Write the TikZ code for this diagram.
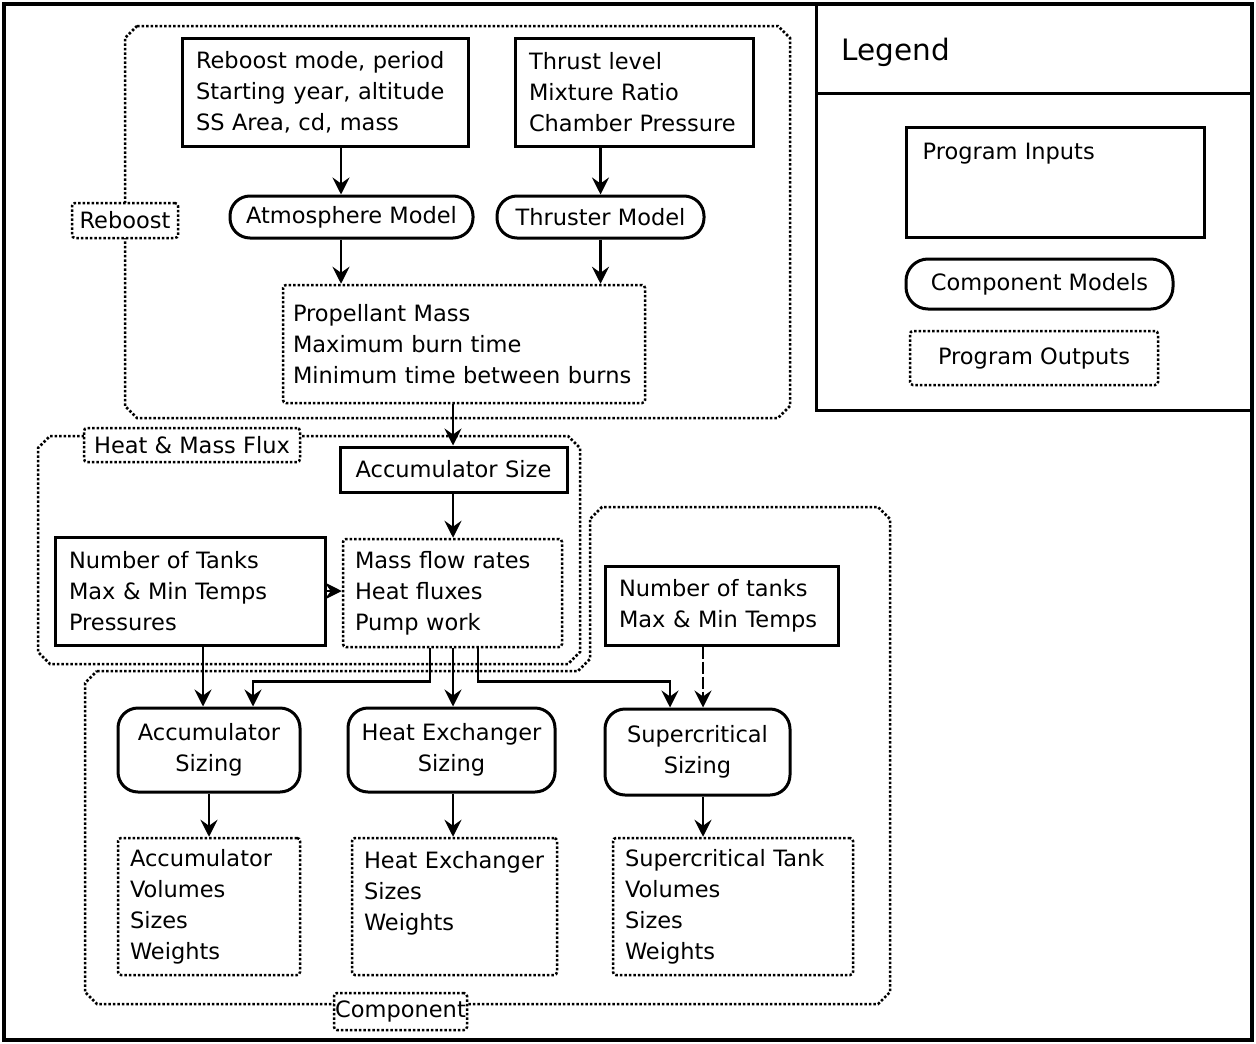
\documentclass[tikz,border=0pt]{standalone}
\usepackage{fontspec}
\setmainfont{DejaVu Sans}
\usetikzlibrary{arrows.meta,positioning}

\tikzset{
  inbox/.style={draw, line width=3pt, align=left, inner xsep=14pt, inner ysep=0pt},
  model/.style={draw, line width=3pt, align=center, rounded corners=20pt, inner sep=0pt},
  outbox/.style={draw, line width=2.5pt, dash pattern=on 2.5pt off 2pt, rounded corners=3pt,
    align=left, inner xsep=12pt, inner ysep=0pt},
  grplabel/.style={draw, fill=white, line width=2.5pt, dash pattern=on 2.5pt off 2pt,
    rounded corners=3pt, inner sep=0pt},
  grp/.style={line width=2.5pt, dash pattern=on 2.5pt off 2pt},
  flow/.style={->, line width=2.5pt},
  >={Stealth[length=17pt,width=17pt,inset=6pt]}
}

\begin{document}
\begin{tikzpicture}[x=1pt, y=-1pt, font=\fontsize{22.5}{31}\selectfont]

  \useasboundingbox (0,0) rectangle (1256,1044);

  % frame and legend
  \draw[line width=4.5pt] (4,4) rectangle (1252,1040);
  \draw[line width=3pt] (816,4) rectangle (1252,410);
  \draw[line width=3pt] (816,93) -- (1252,93);

  % group outlines
  \draw[grp] (137,26) -- (778,26) -- (790,38) -- (790,406) -- (778,418)
    -- (137,418) -- (125,406) -- (125,38) -- cycle; %% reboost
  \draw[grp] (50,436) -- (568,436) -- (580,448) -- (580,652) -- (568,664)
    -- (50,664) -- (38,652) -- (38,448) -- cycle; %% heat & mass flux
  \draw[grp] (97,671) -- (578,671) -- (590,659) -- (590,519) -- (602,507)
    -- (878,507) -- (890,519) -- (890,992) -- (878,1004) -- (97,1004)
    -- (85,992) -- (85,683) -- cycle; %% component

  \node[grplabel, minimum width=106, minimum height=35] (lreb) at (125,220.5) {Reboost};
  \node[grplabel, minimum width=216, minimum height=34] (lhmf) at (192,445) {Heat \& Mass Flux};
  \node[grplabel, minimum width=133, minimum height=37] (lcomp) at (400.5,1011.5) {Component};

  % reboost
  \node[inbox, text width=258, minimum height=108] (in1) at (325,92)
    {Reboost mode, period\\Starting year, altitude\\SS Area, cd, mass};
  \node[inbox, text width=210, minimum height=108] (in2) at (634,92)
    {Thrust level\\Mixture Ratio\\Chamber Pressure};
  \node[model, minimum width=243, minimum height=42] (atm) at (351.5,217) {Atmosphere Model};
  \node[model, minimum width=207, minimum height=42] (thr) at (600.5,217) {Thruster Model};
  \node[outbox, inner xsep=10pt, text width=342, minimum height=118] (out1) at (464,344)
    {Propellant Mass\\Maximum burn time\\Minimum time between burns};

  % heat & mass flux
  \node[inbox, align=center, text width=199, minimum height=45] (accsize) at (453.5,469.5) {Accumulator Size};
  \node[inbox, text width=242, minimum height=108] (in3) at (190,591)
    {Number of Tanks\\Max \& Min Temps\\Pressures};
  \node[outbox, text width=195, minimum height=108] (out2) at (452.5,593)
    {Mass flow rates\\Heat fluxes\\Pump work};

  % component
  \node[inbox, text width=205, minimum height=79] (in4) at (721.5,605.5)
    {Number of tanks\\Max \& Min Temps};
  \node[model, minimum width=182, minimum height=84] (accsz) at (209,750) {Accumulator\\Sizing};
  \node[model, minimum width=207, minimum height=84] (hxsz) at (451.5,750) {Heat Exchanger\\Sizing};
  \node[model, minimum width=185, minimum height=86] (scsz) at (697.5,752) {Supercritical\\Sizing};
  \node[outbox, text width=158, minimum height=137] (out3) at (209,906.5)
    {Accumulator\\Volumes\\Sizes\\Weights};
  \node[outbox, text width=181, minimum height=137] (out4) at (454.5,906.5)
    {Heat Exchanger\\Sizes\\Weights\\\mbox{}};
  \node[outbox, text width=216, minimum height=137] (out5) at (733,906.5)
    {Supercritical Tank\\Volumes\\Sizes\\Weights};

  % legend
  \node[anchor=west, font=\fontsize{29.5}{32}\selectfont] (legtitle) at (838,52) {Legend};
  \node[inbox, minimum width=298, minimum height=110,
    label={[anchor=north west, inner sep=0pt, xshift=18pt, yshift=-17pt]north west:Program Inputs}]
    (legin) at (1055,182) {};
  \node[model, minimum width=267, minimum height=50, rounded corners=22pt] (legcm) at (1039.5,284) {Component Models};
  \node[outbox, minimum width=248, minimum height=54, align=center] (legout) at (1034,358) {Program Outputs};

  % arrow columns
  \coordinate (xa) at (341,0);
  \coordinate (xc) at (453,0);
  \coordinate (xd) at (203,0);
  \coordinate (xe) at (430,0);
  \coordinate (xf) at (253,0);
  \coordinate (xg) at (478,0);
  \coordinate (xh) at (670,0);
  \coordinate (xi) at (703,0);

  \draw[flow] (in1.south -| xa) -- (atm.north -| xa);
  \draw[flow] (in2.south -| thr.north) -- (thr.north);
  \draw[flow] (atm.south -| xa) -- (out1.north -| xa);
  \draw[flow] (thr.south) -- (out1.north -| thr.south);
  \draw[flow] (out1.south -| xc) -- (accsize.north -| xc);
  \draw[flow] (accsize.south -| xc) -- (out2.north -| xc);
  \draw[flow] (in3) -- (in3 -| out2.west);
  \draw[flow] (in3.south -| xd) -- (accsz.north -| xd);
  \draw[flow] (out2.south -| xe) -- ++(0,33) -| (accsz.north -| xf);
  \draw[flow] (out2.south -| xc) -- (hxsz.north -| xc);
  \draw[flow] (out2.south -| xg) -- ++(0,33) -| (scsz.north -| xh);
  \draw[flow, dash pattern=on 12pt off 3pt] (in4.south -| xi) -- (scsz.north -| xi);
  \draw[flow] (accsz) -- (out3);
  \draw[flow] (hxsz.south -| xc) -- (out4.north -| xc);
  \draw[flow] (scsz.south -| xi) -- (out5.north -| xi);
\end{tikzpicture}
\end{document}
